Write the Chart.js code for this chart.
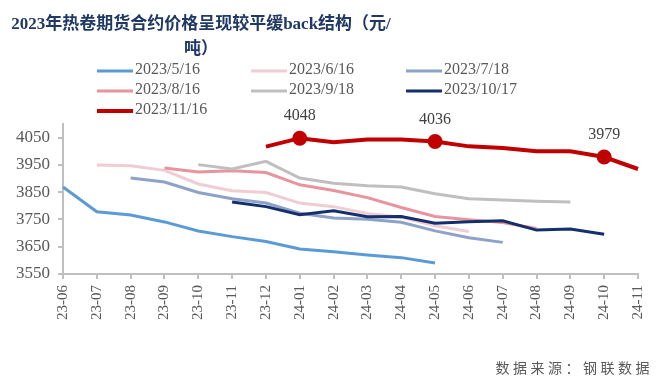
<!DOCTYPE html>
<html>
<head>
<meta charset="utf-8">
<script src="https://cdn.jsdelivr.net/npm/chart.js@4.4.1/dist/chart.umd.min.js"></script>
<style>
    html, body { margin: 0; padding: 0; background: #fff; }
    #wrap { position: relative; width: 662px; height: 382px; }
    #title {
        position: absolute; left: 0; top: 9px; width: 402px;
        text-align: center; line-height: 24px;
        font: bold 17px 'Liberation Serif', 'Noto Sans CJK SC', serif;
        color: #1F3864;
    }
    #source {
        position: absolute; right: 9px; top: 357px;
        font: 14px 'Noto Sans CJK SC', sans-serif;
        letter-spacing: 3.5px; color: #595959;
    }
</style>
</head>
<body>
<div id="wrap">
    <canvas id="chart" width="662" height="382"></canvas>
    <div id="title">2023年热卷期货合约价格呈现较平缓back结构（元/<br>吨）</div>
    <div id="source">数据来源：钢联数据</div>
</div>
<script>
const months = ['23-06', '23-07', '23-08', '23-09', '23-10', '23-11', '23-12', '24-01', '24-02',
    '24-03', '24-04', '24-05', '24-06', '24-07', '24-08', '24-09', '24-10', '24-11'];

const seriesNames = ['2023/5/16', '2023/6/16', '2023/7/18', '2023/8/16', '2023/9/18', '2023/10/17', '2023/11/16'];

// prices by contract month, null where the curve did not exist
const s0516 = [3869, 3778, 3766, 3741, 3708, 3687, 3669, 3642, 3632, 3620, 3610, 3590, null, null, null, null, null, null];
const s0616 = [null, 3950, 3947, 3930, 3880, 3855, 3849, 3810, 3797, 3772, 3758, 3727, 3706, null, null, null, null, null];
const s0718 = [null, null, 3902, 3887, 3849, 3826, 3810, 3773, 3755, 3751, 3740, 3708, 3683, 3666, null, null, null, null];
const s0816 = [null, null, null, 3939, 3924, 3929, 3922, 3877, 3856, 3830, 3794, 3761, 3749, 3739, 3717, null, null, null];
const s0918 = [null, null, null, null, 3951, 3935, 3963, 3902, 3883, 3874, 3869, 3844, 3826, 3821, 3817, 3814, null, null];
const s1017 = [null, null, null, null, null, 3814, 3797, 3767, 3782, 3760, 3761, 3736, 3742, 3745, 3711, 3715, 3696, null];
const s1116 = [null, null, null, null, null, null, 4017, 4048, 4033, 4043, 4043, 4036, 4018, 4012, 4000, 4000, 3979, 3935];

const yTicks = [3550, 3650, 3750, 3850, 3950, 4050];
const markedIdx = [7, 11, 16];   // points on the latest curve that carry a value label

const colors = ['#5B9BD5', '#F0CDD2', '#8EA1C8', '#E8949E', '#BFBFBF', '#13306C', '#C00000'];
const allSeries = [s0516, s0616, s0718, s0816, s0918, s1017, s1116];

const serif = "'Liberation Serif', 'Times New Roman', serif";

const datasets = allSeries.map((d, i) => {
    const last = i === allSeries.length - 1;
    return {
        label: seriesNames[i],
        data: d,
        borderColor: colors[i],
        backgroundColor: colors[i],
        borderWidth: last ? 4 : 3,
        tension: 0,
        spanGaps: false,
        pointRadius: last ? (ctx => markedIdx.includes(ctx.dataIndex) ? 5.5 : 0) : 0,
        pointHoverRadius: 0,
        order: allSeries.length - i
    };
});

// 3-column legend like the source picture
const gridLegend = {
    id: 'gridLegend',
    afterDraw(chart) {
        const ctx = chart.ctx;
        const colX = [97, 251, 406];
        const rowY = [71, 91, 111];
        ctx.save();
        ctx.font = '16px ' + serif;
        ctx.textBaseline = 'middle';
        ctx.fillStyle = '#595959';
        chart.data.datasets.forEach((ds, i) => {
            const x = colX[i % 3];
            const y = rowY[Math.floor(i / 3)];
            ctx.strokeStyle = ds.borderColor;
            ctx.lineWidth = ds.borderWidth;
            ctx.beginPath();
            ctx.moveTo(x, y);
            ctx.lineTo(x + 36, y);
            ctx.stroke();
            ctx.fillText(ds.label, x + 38, y - 1);
        });
        ctx.restore();
    }
};

const pointLabels = {
    id: 'pointLabels',
    afterDatasetsDraw(chart) {
        const ctx = chart.ctx;
        const di = chart.data.datasets.length - 1;
        const meta = chart.getDatasetMeta(di);
        ctx.save();
        ctx.font = '16px ' + serif;
        ctx.fillStyle = '#404040';
        ctx.textAlign = 'center';
        ctx.textBaseline = 'middle';
        markedIdx.forEach(k => {
            const p = meta.data[k];
            ctx.fillText(String(chart.data.datasets[di].data[k]), p.x, p.y - 22);
        });
        ctx.restore();
    }
};

new Chart(document.getElementById('chart'), {
    type: 'line',
    data: { labels: months, datasets: datasets },
    options: {
        responsive: false,
        animation: false,
        layout: { padding: { top: 124, right: 22, left: 0, bottom: 0 } },
        plugins: {
            legend: { display: false },
            title: { display: false },
            tooltip: { enabled: false }
        },
        scales: {
            x: {
                offset: false,
                afterFit: s => { s.height = 108; },
                border: { color: '#BFBFBF', width: 2 },
                grid: { drawOnChartArea: false, tickLength: 5, color: '#BFBFBF', lineWidth: 2, offset: false },
                ticks: {
                    autoSkip: false, minRotation: 90, maxRotation: 90, padding: 6,
                    color: '#595959', font: { family: serif, size: 15 }
                }
            },
            y: {
                min: 3550,
                max: 4100,
                afterFit: s => { s.width = 63; },
                afterBuildTicks: s => { s.ticks = yTicks.map(v => ({ value: v })); },
                border: { color: '#BFBFBF', width: 2 },
                grid: { drawOnChartArea: false, tickLength: 5, color: '#BFBFBF', lineWidth: 2 },
                ticks: {
                    padding: 8, color: '#595959', font: { family: serif, size: 17 },
                    callback: v => String(v)
                }
            }
        }
    },
    plugins: [gridLegend, pointLabels]
});
</script>
</body>
</html>
